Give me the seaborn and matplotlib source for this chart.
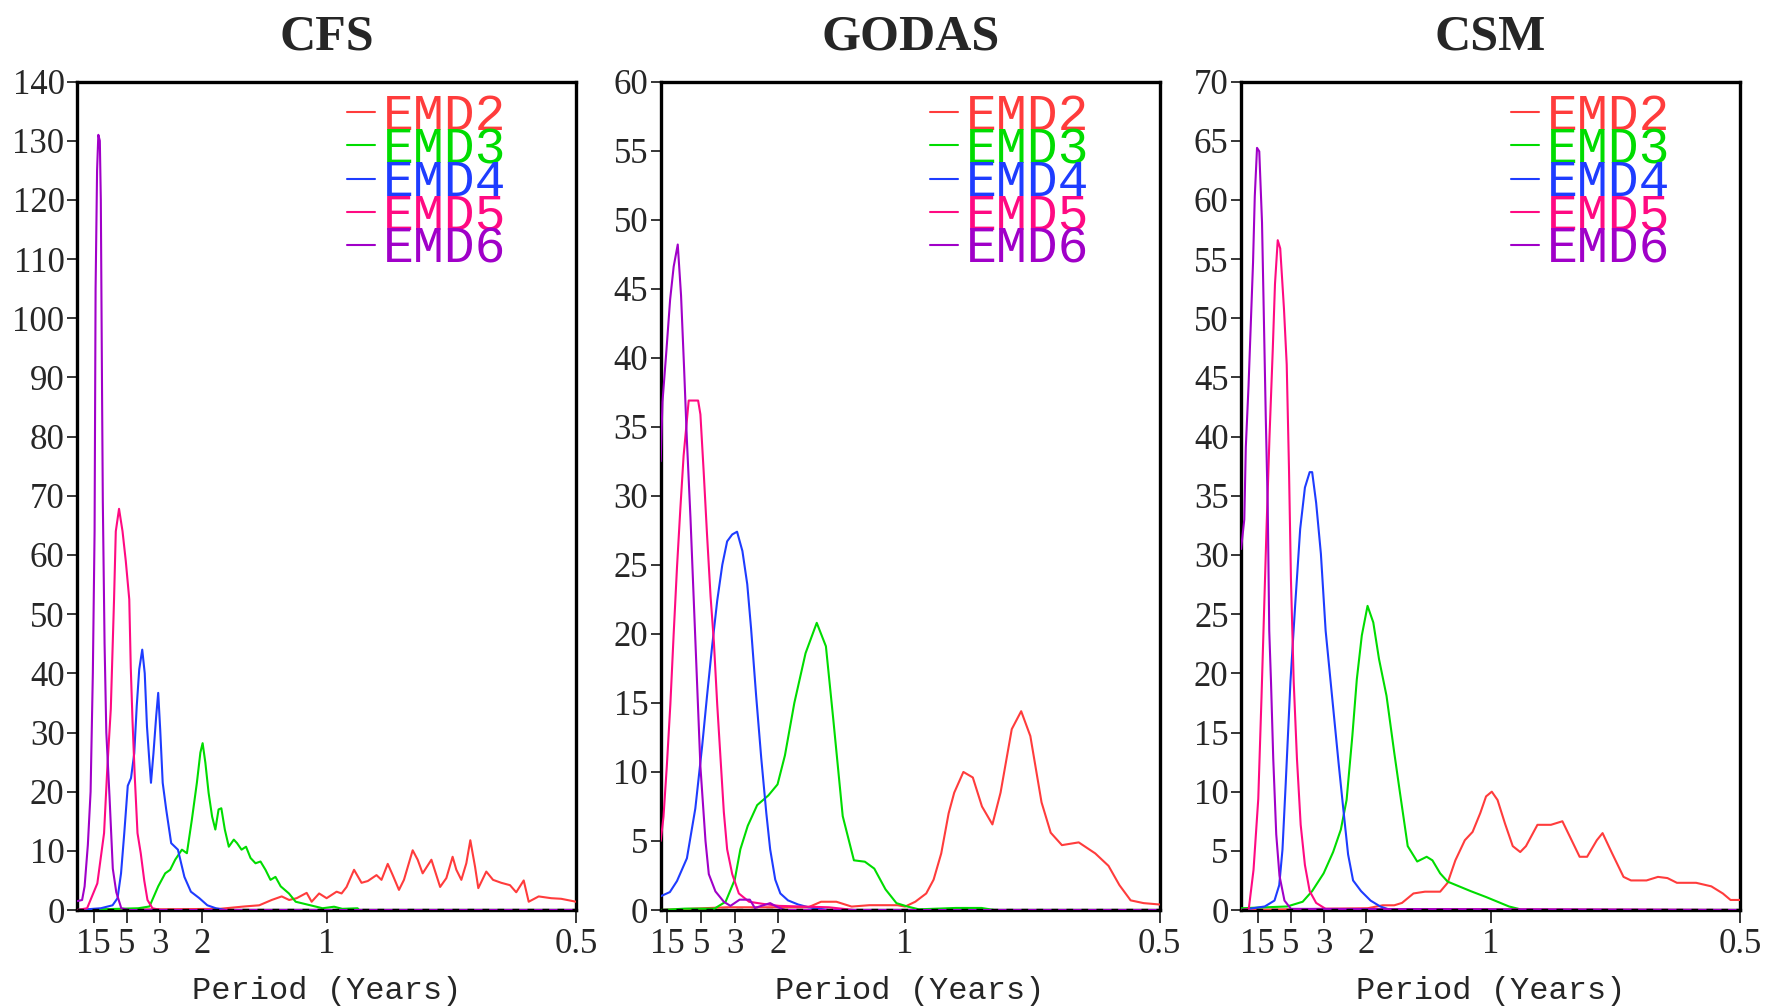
import matplotlib
matplotlib.use("Agg")
import matplotlib.pyplot as plt
import pandas as pd
import seaborn as sns

# frequency (cycles / year) and power
cfs_f2 = [0.0, 0.57, 0.67, 0.73, 0.78, 0.82, 0.85, 0.88, 0.92, 0.94, 0.97, 1.0, 1.04, 1.06, 1.08, 1.11, 1.14, 1.165, 1.2, 1.22,
          1.245, 1.265, 1.29, 1.31, 1.345, 1.365, 1.385, 1.42, 1.455, 1.48, 1.505, 1.52, 1.54, 1.56, 1.576, 1.595, 1.608, 1.64, 1.667, 1.70,
          1.735, 1.76, 1.79, 1.81, 1.85, 1.90, 1.94, 2.0]
cfs_p2 = [0.0, 0.2, 0.6, 0.8, 1.7, 2.3, 1.7, 2.0, 2.9, 1.4, 2.8, 2.0, 3.1, 2.8, 3.9, 6.8, 4.6, 4.9, 5.9, 5.1,
          7.8, 5.9, 3.4, 5.1, 10.1, 8.5, 6.2, 8.5, 3.9, 5.4, 9.0, 6.8, 5.1, 7.9, 11.8, 7.3, 3.7, 6.5, 5.1, 4.6,
          4.2, 3.0, 5.0, 1.4, 2.3, 2.0, 1.9, 1.4]
cfs_f3 = [0.0, 0.245, 0.29, 0.325, 0.353, 0.373, 0.393, 0.42, 0.44, 0.46, 0.48, 0.494, 0.503, 0.514, 0.527, 0.541, 0.554, 0.567, 0.578, 0.592,
          0.608, 0.628, 0.641, 0.659, 0.677, 0.695, 0.715, 0.735, 0.755, 0.775, 0.795, 0.816, 0.849, 0.876, 0.93, 0.984, 1.03, 1.063, 1.124, 1.13, 2.0]
cfs_p3 = [0.0, 0.3, 0.6, 4.0, 6.2, 6.8, 8.5, 10.2, 9.6, 15.3, 21.5, 26.6, 28.2, 24.9, 19.8, 15.8, 13.6, 17.0, 17.2, 13.6,
          10.7, 11.9, 11.3, 10.2, 10.7, 8.8, 7.9, 8.2, 6.8, 5.1, 5.6, 4.0, 2.8, 1.4, 0.85, 0.3, 0.56, 0.2, 0.3, 0.0, 0.0]
cfs_f4 = [0.0, 0.095, 0.142, 0.162, 0.176, 0.189, 0.203, 0.216, 0.229, 0.239, 0.249, 0.261, 0.271, 0.280, 0.290, 0.296, 0.306, 0.317, 0.325, 0.333,
          0.343, 0.357, 0.377, 0.404, 0.43, 0.456, 0.49, 0.522, 0.556, 0.596, 2.0]
cfs_p4 = [0.0, 0.3, 0.8, 2.0, 6.2, 13.0, 21.0, 22.3, 26.5, 34.5, 40.7, 44.0, 40.0, 31.0, 24.9, 21.5, 26.5, 32.8, 36.7, 30.5,
          21.5, 17.0, 11.3, 10.2, 5.6, 3.1, 2.0, 0.8, 0.3, 0.0, 0.0]
cfs_f5 = [0.0, 0.04, 0.081, 0.108, 0.121, 0.135, 0.148, 0.155, 0.168, 0.182, 0.195, 0.209, 0.215, 0.222, 0.231, 0.242, 0.255, 0.269, 0.282, 0.302, 0.336, 2.0]
cfs_p5 = [0.0, 0.3, 4.5, 13.0, 24.0, 34.0, 52.5, 64.0, 67.8, 64.0, 59.0, 52.5, 41.0, 32.0, 22.6, 13.0, 9.6, 5.0, 1.7, 0.3, 0.0, 0.0]
cfs_f6 = [0.0, 0.02, 0.03, 0.043, 0.054, 0.063, 0.07, 0.074, 0.08, 0.085, 0.091, 0.095, 0.1, 0.103, 0.11, 0.117, 0.13, 0.143, 0.157, 0.177, 0.21, 2.0]
cfs_p6 = [1.5, 1.7, 4.0, 11.0, 20.0, 40.0, 64.0, 105.0, 125.0, 131.0, 130.0, 120.0, 87.0, 69.0, 45.0, 30.0, 19.0, 7.0, 3.0, 0.3, 0.0, 0.0]

god_f2 = [0.04, 0.3, 0.62, 0.67, 0.73, 0.79, 0.86, 0.97, 1.0, 1.04, 1.083, 1.112, 1.142, 1.171, 1.193, 1.229, 1.266, 1.302, 1.343, 1.375,
          1.419, 1.456, 1.492, 1.536, 1.572, 1.616, 1.682, 1.747, 1.799, 1.842, 1.886, 1.937, 2.0]
god_p2 = [0.0, 0.2, 0.2, 0.6, 0.6, 0.25, 0.35, 0.35, 0.25, 0.6, 1.2, 2.2, 4.1, 7.0, 8.5, 10.0, 9.6, 7.5, 6.2, 8.5,
          13.1, 14.4, 12.6, 7.8, 5.6, 4.7, 4.9, 4.1, 3.2, 1.8, 0.7, 0.5, 0.4]
god_f3 = [0.04, 0.134, 0.251, 0.295, 0.331, 0.353, 0.382, 0.419, 0.463, 0.499, 0.528, 0.565, 0.609, 0.653, 0.689, 0.718, 0.755, 0.799, 0.842, 0.879,
          0.923, 0.966, 1.01, 1.054, 1.2, 1.3, 1.35, 2.0]
god_p3 = [0.0, 0.1, 0.1, 0.6, 2.2, 4.4, 6.1, 7.6, 8.3, 9.1, 11.2, 15.0, 18.6, 20.8, 19.1, 13.8, 6.8, 3.6, 3.5, 3.0,
          1.5, 0.5, 0.25, 0.05, 0.15, 0.15, 0.0, 0.0]
god_f4 = [0.04, 0.076, 0.104, 0.143, 0.176, 0.203, 0.222, 0.242, 0.262, 0.282, 0.301, 0.321, 0.340, 0.361, 0.380, 0.395, 0.415, 0.435, 0.455, 0.47,
          0.49, 0.51, 0.54, 0.58, 0.62, 0.70, 2.0]
god_p4 = [1.0, 1.3, 2.1, 3.75, 7.35, 11.9, 15.5, 19.1, 22.4, 25.0, 26.7, 27.2, 27.4, 26.0, 23.6, 20.4, 15.5, 11.0, 7.0, 4.4,
          2.2, 1.2, 0.7, 0.4, 0.2, 0.0, 0.0]
god_f5 = [0.04, 0.051, 0.064, 0.078, 0.091, 0.104, 0.117, 0.130, 0.150, 0.187, 0.196, 0.209, 0.222, 0.236, 0.249, 0.262, 0.275, 0.288, 0.301, 0.321,
          0.347, 0.387, 0.44, 0.505, 0.7, 0.8, 2.0]
god_p5 = [5.0, 6.75, 10.4, 14.9, 20.0, 24.8, 29.0, 32.9, 36.9, 36.9, 35.9, 31.7, 27.2, 22.7, 19.4, 14.9, 11.0, 7.1, 4.4, 2.6,
          1.2, 0.6, 0.45, 0.3, 0.2, 0.0, 0.0]
god_f6 = [0.04, 0.047, 0.062, 0.077, 0.091, 0.107, 0.12, 0.132, 0.143, 0.157, 0.170, 0.183, 0.196, 0.216, 0.229, 0.255, 0.288, 0.314, 0.35, 0.39,
          0.41, 0.47, 0.5, 0.53, 2.0]
god_p6 = [32.5, 36.8, 40.4, 44.2, 46.6, 48.2, 44.5, 39.2, 34.0, 28.4, 22.4, 16.4, 10.4, 5.0, 2.6, 1.35, 0.6, 0.3, 0.75, 0.75,
          0.15, 0.5, 0.2, 0.0, 0.0]

csm_f2 = [0.0, 0.507, 0.568, 0.614, 0.645, 0.691, 0.737, 0.798, 0.828, 0.859, 0.897, 0.928, 0.959, 0.982, 1.005, 1.028, 1.058, 1.089, 1.119, 1.142,
          1.188, 1.242, 1.288, 1.318, 1.357, 1.387, 1.426, 1.449, 1.487, 1.533, 1.563, 1.625, 1.671, 1.709, 1.747, 1.824, 1.885, 1.931, 1.962, 2.0]
csm_p2 = [0.0, 0.15, 0.4, 0.4, 0.6, 1.4, 1.55, 1.55, 2.3, 4.2, 5.9, 6.6, 8.2, 9.6, 10.0, 9.3, 7.3, 5.4, 4.9, 5.4,
          7.2, 7.2, 7.5, 6.2, 4.5, 4.5, 5.9, 6.5, 4.8, 2.8, 2.5, 2.5, 2.8, 2.7, 2.3, 2.3, 2.0, 1.4, 0.85, 0.85]
csm_f3 = [0.0, 0.185, 0.247, 0.285, 0.331, 0.369, 0.40, 0.423, 0.446, 0.464, 0.484, 0.507, 0.530, 0.553, 0.583, 0.614, 0.637, 0.668, 0.706, 0.744,
          0.767, 0.798, 0.828, 0.874, 0.920, 0.982, 1.028, 1.074, 1.112, 1.12, 2.0]
csm_p3 = [0.15, 0.3, 0.7, 1.6, 3.1, 4.9, 6.8, 9.3, 14.7, 19.5, 23.2, 25.7, 24.3, 21.2, 18.1, 13.3, 9.9, 5.4, 4.1, 4.5,
          4.2, 3.1, 2.4, 2.0, 1.6, 1.1, 0.7, 0.3, 0.1, 0.0, 0.0]
csm_f4 = [0.0, 0.095, 0.134, 0.153, 0.166, 0.179, 0.198, 0.217, 0.237, 0.256, 0.275, 0.285, 0.301, 0.320, 0.339, 0.365, 0.391, 0.410, 0.429, 0.449,
          0.481, 0.519, 0.558, 0.6, 2.0]
csm_p4 = [0.0, 0.3, 0.8, 2.1, 5.1, 10.7, 19.3, 25.8, 32.2, 35.7, 37.0, 37.0, 34.4, 30.1, 23.6, 18.0, 12.4, 8.5, 4.7, 2.5,
          1.6, 0.8, 0.3, 0.0, 0.0]
csm_f5 = [0.0, 0.031, 0.05, 0.069, 0.082, 0.093, 0.102, 0.114, 0.127, 0.136, 0.147, 0.157, 0.172, 0.183, 0.192, 0.2, 0.211, 0.224, 0.239, 0.256,
          0.275, 0.301, 0.339, 2.0]
csm_p5 = [0.0, 0.1, 3.4, 9.4, 18.0, 25.8, 32.2, 40.0, 47.3, 52.9, 56.6, 55.9, 50.8, 46.1, 37.4, 27.9, 19.3, 12.8, 7.2, 3.8,
          1.6, 0.6, 0.1, 0.0]
csm_f6 = [0.0, 0.013, 0.019, 0.030, 0.039, 0.048, 0.055, 0.064, 0.073, 0.084, 0.090, 0.099, 0.107, 0.113, 0.120, 0.129, 0.141, 0.154, 0.174, 0.2, 2.0]
csm_p6 = [30.5, 33.0, 39.1, 44.3, 49.5, 54.7, 60.3, 64.4, 64.1, 58.1, 51.6, 41.7, 34.0, 23.6, 19.3, 12.8, 6.4, 2.9, 0.8, 0.1, 0.0]

modes = ['EMD2', 'EMD3', 'EMD4', 'EMD5', 'EMD6']
colors = ['#ff3c3c', '#00dc00', '#1e3cff', '#ff0a82', '#a000c8']
period_ticks = [15, 5, 3, 2, 1, 0.5]
period_labels = ['15', '5', '3', '2', '1', '0.5']

panels = [
    ('CFS', [(cfs_f2, cfs_p2), (cfs_f3, cfs_p3), (cfs_f4, cfs_p4), (cfs_f5, cfs_p5), (cfs_f6, cfs_p6)], 0.0, 140, 10),
    ('GODAS', [(god_f2, god_p2), (god_f3, god_p3), (god_f4, god_p4), (god_f5, god_p5), (god_f6, god_p6)], 0.04, 60, 5),
    ('CSM', [(csm_f2, csm_p2), (csm_f3, csm_p3), (csm_f4, csm_p4), (csm_f5, csm_p5), (csm_f6, csm_p6)], 0.0, 70, 5),
]

sns.set_style('white')
plt.rcParams['font.family'] = ['Liberation Serif', 'DejaVu Serif']

fig = plt.figure(figsize=(17.77, 10.06), dpi=100)
lefts = [0.0434, 0.3718, 0.6984]
for (name, series, xmin, ymax, ystep), left in zip(panels, lefts):
    ax = fig.add_axes([left, 0.0954, 0.2808, 0.8235])
    rows = []
    for mode, (f, p) in zip(modes, series):
        rows.append(pd.DataFrame({'freq': f, 'power': p, 'mode': mode}))
    df = pd.concat(rows, ignore_index=True)
    sns.lineplot(data=df, x='freq', y='power', hue='mode', hue_order=modes,
                 palette=dict(zip(modes, colors)), sort=False, estimator=None,
                 linewidth=1.5, legend=False, ax=ax, zorder=3)
    ax.axhline(0, color='black', lw=2.4, ls=(0, (2, 2.5)), zorder=4)

    ax.set_xlim(xmin, 2.0)
    ax.set_ylim(0, ymax)
    ax.set_yticks(range(0, ymax + 1, ystep))
    ax.set_xticks([1 / p for p in period_ticks])
    ax.set_xticklabels(period_labels)
    ax.tick_params(axis='both', direction='out', length=7, width=1.3, labelsize=25,
                   left=True, bottom=True, top=False, right=False)
    ax.tick_params(axis='x', length=9, pad=4)
    ax.tick_params(axis='y', pad=2)
    for s in ax.spines.values():
        s.set_linewidth(2.4)
        s.set_color('black')

    ax.set_xlabel('Period (Years)', fontsize=23, family='Liberation Mono', labelpad=11)
    ax.set_ylabel('')
    ax.set_title(name, fontsize=36, fontweight='bold', pad=23)

    leg = ax.legend(ax.lines[:5], modes, loc='upper left', bbox_to_anchor=(0.54, 0.987),
                    frameon=False, prop={'family': 'Liberation Mono', 'size': 37},
                    handlelength=0.55, handletextpad=0.15, labelspacing=-0.31,
                    borderpad=0, borderaxespad=0, labelcolor='linecolor')
    for h in leg.legend_handles:
        h.set_linewidth(1.5)

fig.savefig('out.png', dpi=100)
